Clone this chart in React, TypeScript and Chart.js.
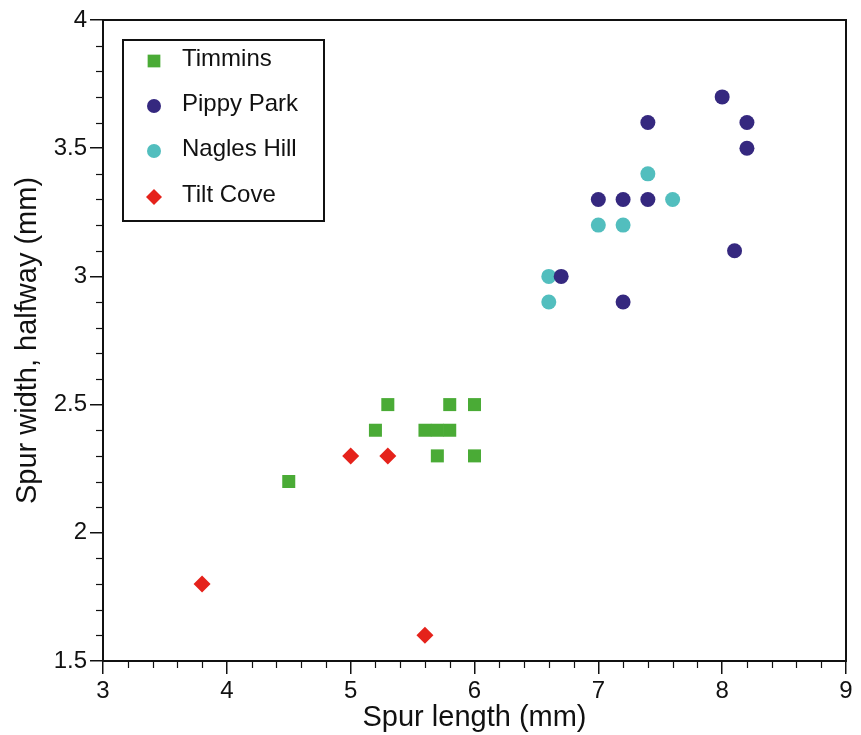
import React, { useEffect, useRef } from 'react';
import { Chart, registerables } from 'chart.js';

Chart.register(...registerables);

// ---- Data ----
const timminsX = [4.5, 5.2, 5.3, 5.6, 5.7, 5.8, 5.7, 5.8, 6.0, 6.0];
const timminsY = [2.2, 2.4, 2.5, 2.4, 2.4, 2.4, 2.3, 2.5, 2.5, 2.3];

const pippyX = [8.0, 7.4, 8.2, 8.2, 7.0, 7.2, 7.4, 8.1, 6.7, 7.2];
const pippyY = [3.7, 3.6, 3.6, 3.5, 3.3, 3.3, 3.3, 3.1, 3.0, 2.9];

const naglesX = [7.4, 7.6, 7.0, 7.2, 6.6, 6.6];
const naglesY = [3.4, 3.3, 3.2, 3.2, 3.0, 2.9];

const tiltX = [5.0, 5.3, 3.8, 5.6];
const tiltY = [2.3, 2.3, 1.8, 1.6];

const seriesNames = ['Timmins', 'Pippy Park', 'Nagles Hill', 'Tilt Cove'];
const seriesColors = ['#4aab36', '#35287f', '#52bebe', '#e5221b'];
const seriesShapes = ['rect', 'circle', 'circle', 'rectRot'];
const seriesRadius = [9.2, 7.5, 7.5, 8.5];

const xTitle = 'Spur length (mm)';
const yTitle = 'Spur width, halfway (mm)';
const xMin = 3, xMax = 9, xStep = 1, xMinor = 0.2;
const yMin = 1.5, yMax = 4, yStep = 0.5, yMinor = 0.1;

const FONT = "'Liberation Sans', Arial, Helvetica, sans-serif";

function pts(xs: number[], ys: number[]) {
  return xs.map((x, i) => ({ x, y: ys[i] }));
}

function drawMarker(ctx: CanvasRenderingContext2D, shape: string, x: number, y: number, r: number) {
  ctx.beginPath();
  if (shape === 'rect') {
    const s = Math.SQRT1_2 * r;
    ctx.rect(x - s, y - s, 2 * s, 2 * s);
  } else if (shape === 'rectRot') {
    ctx.moveTo(x, y - r);
    ctx.lineTo(x + r, y);
    ctx.lineTo(x, y + r);
    ctx.lineTo(x - r, y);
    ctx.closePath();
  } else {
    ctx.arc(x, y, r, 0, Math.PI * 2);
  }
  ctx.fill();
}

const framePlugin = {
  id: 'frameAndMinor',
  afterDraw(chart: any) {
    const ctx = chart.ctx as CanvasRenderingContext2D;
    const ca = chart.chartArea;
    const xs = chart.scales.x;
    const ys = chart.scales.y;
    ctx.save();
    ctx.strokeStyle = '#111';
    // minor ticks
    ctx.lineWidth = 1.2;
    const nX = Math.round((xMax - xMin) / xMinor);
    for (let i = 0; i <= nX; i++) {
      if (i % Math.round(xStep / xMinor) === 0) continue;
      const px = Math.round(xs.getPixelForValue(xMin + i * xMinor)) + 0.5;
      ctx.beginPath();
      ctx.moveTo(px, ca.bottom);
      ctx.lineTo(px, ca.bottom + 7);
      ctx.stroke();
    }
    const nY = Math.round((yMax - yMin) / yMinor);
    for (let i = 0; i <= nY; i++) {
      if (i % Math.round(yStep / yMinor) === 0) continue;
      const py = Math.round(ys.getPixelForValue(yMin + i * yMinor)) + 0.5;
      ctx.beginPath();
      ctx.moveTo(ca.left, py);
      ctx.lineTo(ca.left - 7, py);
      ctx.stroke();
    }
    // frame
    ctx.lineWidth = 2;
    ctx.strokeRect(ca.left, ca.top, ca.right - ca.left, ca.bottom - ca.top);

    // legend box
    const bx = ca.left + 20, by = ca.top + 20, bw = 201, bh = 181;
    ctx.fillStyle = '#fff';
    ctx.fillRect(bx, by, bw, bh);
    ctx.lineWidth = 2;
    ctx.strokeRect(bx, by, bw, bh);
    ctx.font = `24px ${FONT}`;
    ctx.textBaseline = 'middle';
    ctx.textAlign = 'left';
    const rowY = [59, 104, 149, 195];
    const legR = [9, 7, 7, 8];
    for (let i = 0; i < seriesNames.length; i++) {
      const yy = ca.top + rowY[i] - 20;
      ctx.fillStyle = seriesColors[i];
      drawMarker(ctx, seriesShapes[i], bx + 31, yy + 2, legR[i]);
      ctx.fillStyle = '#111';
      ctx.fillText(seriesNames[i], bx + 59, yy);
    }
    ctx.restore();
  },
};

export default function App() {
  const ref = useRef<HTMLCanvasElement | null>(null);
  useEffect(() => {
    if (!ref.current) return;
    const data = [pts(timminsX, timminsY), pts(pippyX, pippyY), pts(naglesX, naglesY), pts(tiltX, tiltY)];
    const chart = new Chart(ref.current, {
      type: 'scatter',
      data: {
        datasets: data.map((d, i) => ({
          label: seriesNames[i],
          data: d,
          pointStyle: seriesShapes[i] as any,
          pointRadius: seriesRadius[i],
          backgroundColor: seriesColors[i],
          borderColor: seriesColors[i],
          borderWidth: 0,
        })),
      },
      options: {
        animation: false,
        responsive: false,
        devicePixelRatio: 1,
        layout: { padding: { top: 20, right: 15, left: 0, bottom: 0 } },
        plugins: { legend: { display: false }, tooltip: { enabled: false } },
        scales: {
          x: {
            type: 'linear',
            min: xMin,
            max: xMax,
            afterFit: (s: any) => { s.height = 74; },
            ticks: { stepSize: xStep, color: '#111', font: { family: FONT, size: 24 }, padding: 3, callback: (v: any) => String(v) },
            grid: { drawOnChartArea: false, tickLength: 13, color: '#111', lineWidth: 1.5 },
            border: { display: true, color: '#111', width: 2 },
            title: { display: true, text: xTitle, color: '#111', font: { family: FONT, size: 29 }, padding: { top: 0, bottom: 0 } },
          },
          y: {
            type: 'linear',
            min: yMin,
            max: yMax,
            afterFit: (s: any) => { s.width = 103; },
            ticks: { stepSize: yStep, color: '#111', font: { family: FONT, size: 24 }, padding: 3, callback: (v: any) => String(v) },
            grid: { drawOnChartArea: false, tickLength: 13, color: '#111', lineWidth: 1.5 },
            border: { display: true, color: '#111', width: 2 },
            title: { display: true, text: yTitle, color: '#111', font: { family: FONT, size: 29 }, padding: { top: 11, bottom: 0 } },
          },
        },
      },
      plugins: [framePlugin],
    });
    return () => chart.destroy();
  }, []);
  return (
    <div style={{ position: 'absolute', left: 0, top: 0, width: 861, height: 735, background: '#fff' }}>
      <canvas ref={ref} width={861} height={735} style={{ display: 'block' }} />
    </div>
  );
}
